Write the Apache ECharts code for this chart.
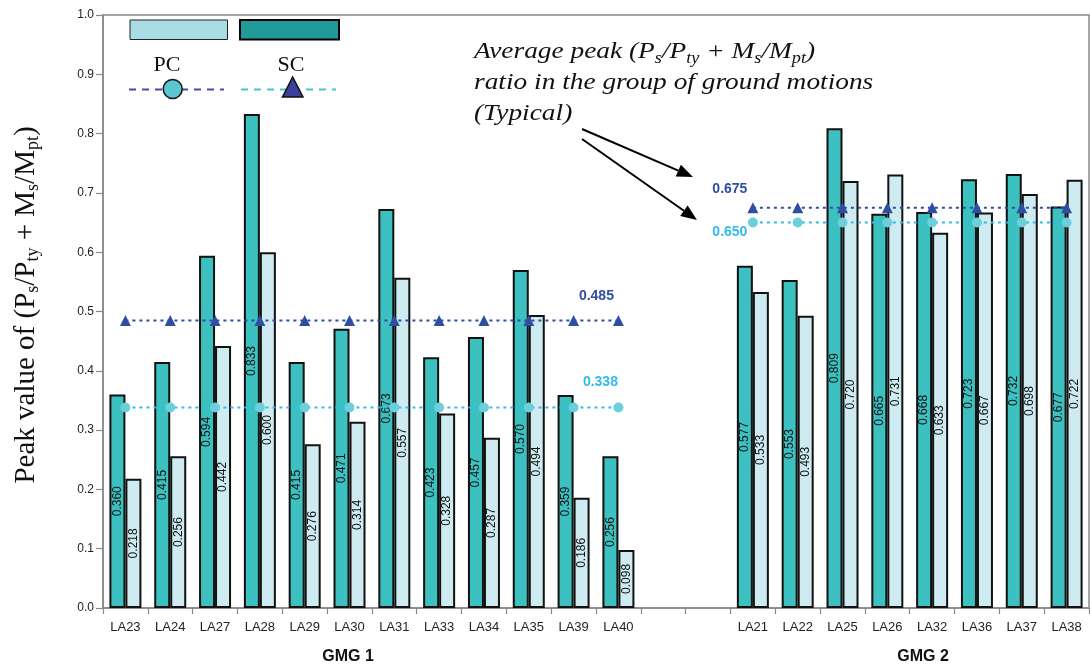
<!DOCTYPE html>
<html>
<head>
<meta charset="utf-8">
<script src="https://cdn.jsdelivr.net/npm/echarts@6/dist/echarts.min.js"></script>
<style>html,body{margin:0;padding:0;background:#fff;}#c{width:1090px;height:667px;}</style>
</head>
<body>
<div id="c"></div>
<script>
// ---- data ----
const gmg1Cats = ['LA23','LA24','LA27','LA28','LA29','LA30','LA31','LA33','LA34','LA35','LA39','LA40'];
const gmg2Cats = ['LA21','LA22','LA25','LA26','LA32','LA36','LA37','LA38'];
const scGMG1 = [0.360,0.415,0.594,0.833,0.415,0.471,0.673,0.423,0.457,0.570,0.359,0.256];
const pcGMG1 = [0.218,0.256,0.442,0.600,0.276,0.314,0.557,0.328,0.287,0.494,0.186,0.098];
const scGMG2 = [0.577,0.553,0.809,0.665,0.668,0.723,0.732,0.677];
const pcGMG2 = [0.533,0.493,0.720,0.731,0.633,0.667,0.698,0.722];
const avgSC = [0.485, 0.675];   // GMG1, GMG2
const avgPC = [0.338, 0.650];
const groupNames = ['GMG 1','GMG 2'];
const yMin = 0, yMax = 1.0, yStep = 0.1;

// ---- build ----
const gap = [' ', '  '];
const cats = [...gmg1Cats, ...gap, ...gmg2Cats];
const scData = [...scGMG1, null, null, ...scGMG2];
const pcData = [...pcGMG1, null, null, ...pcGMG2];
const n1 = gmg1Cats.length, g2 = n1 + gap.length;
function avgLine(avg, labelOffs, color) {
  return cats.map((c, i) => {
    let v = i < n1 ? avg[0] : (i >= g2 ? avg[1] : null);
    if (i === n1 - 1 || i === g2) {
      const k = i === n1 - 1 ? 0 : 1;
      return {value: v, label: {show: true, position: 'inside', offset: labelOffs[k],
        formatter: () => avg[k].toFixed(3), color: color, fontSize: 14, fontWeight: 'bold',
        fontFamily: 'Liberation Sans, Arial'}};
    }
    return v;
  });
}

const SANS = 'Liberation Sans, Arial, sans-serif';
const SERIF = 'Liberation Serif, Times New Roman, serif';

const chart = echarts.init(document.getElementById('c'), null, {renderer: 'canvas'});

function arrow(x1, y1, x2, y2) {
  const dx = x2 - x1, dy = y2 - y1, L = Math.hypot(dx, dy);
  const ux = dx / L, uy = dy / L, hl = 16, hw = 6.5;
  const bx = x2 - ux * hl, by = y2 - uy * hl;
  return [
    {type: 'line', shape: {x1, y1, x2: bx, y2: by}, style: {stroke: '#000', lineWidth: 2}},
    {type: 'polygon', shape: {points: [[x2, y2], [bx - uy * hw, by + ux * hw], [bx + uy * hw, by - ux * hw]]},
      style: {fill: '#000'}}
  ];
}

const option = {
  animation: false,
  backgroundColor: '#fff',
  grid: {left: 103, top: 15, width: 986, height: 593, show: true, borderColor: '#888', borderWidth: 1.5},
  xAxis: {
    type: 'category', data: cats,
    axisLine: {lineStyle: {color: '#888', width: 1.5}},
    axisTick: {show: true, interval: 0, length: 6, lineStyle: {color: '#888', width: 1.2}},
    axisLabel: {interval: 0, fontSize: 13, color: '#222', fontFamily: SANS, margin: 13}
  },
  yAxis: {
    type: 'value', min: yMin, max: yMax, interval: yStep,
    splitLine: {show: false},
    axisLine: {show: true, lineStyle: {color: '#888', width: 1.5}},
    axisTick: {show: true, length: 7, lineStyle: {color: '#888', width: 1.2}},
    axisLabel: {fontSize: 12, color: '#222', fontFamily: SANS, margin: 9, formatter: v => v.toFixed(1)}
  },
  series: [
    {name: 'SC', type: 'bar', data: scData, barWidth: 16, barGap: '0%',
      itemStyle: {color: '#3cc0c0', borderColor: '#111', borderWidth: 2},
      label: {show: true, position: 'inside', rotate: 90, fontSize: 12, color: '#111', fontFamily: SANS,
        formatter: p => p.value == null ? '' : p.value.toFixed(3)}},
    {name: 'PC', type: 'bar', data: pcData, barWidth: 16, barGap: '0%',
      itemStyle: {color: '#cdebf0', borderColor: '#111', borderWidth: 2},
      label: {show: true, position: 'inside', rotate: 90, fontSize: 12, color: '#111', fontFamily: SANS,
        formatter: p => p.value == null ? '' : p.value.toFixed(3)}},
    {name: 'PC avg', type: 'line', z: 5, data: avgLine(avgPC, [[-18, -25], [-23, 10]], '#33bbee'),
      connectNulls: false, symbol: 'circle', symbolSize: 10, showAllSymbol: true,
      itemStyle: {color: '#6ccfdc'}, lineStyle: {color: '#33bbee', width: 2, type: [3, 4]}},
    {name: 'SC avg', type: 'line', z: 6, data: avgLine(avgSC, [[-22, -24], [-23, -19]], '#2f4ea3'),
      connectNulls: false, symbol: 'triangle', symbolSize: 11, showAllSymbol: true,
      itemStyle: {color: '#2f4ea3'}, lineStyle: {color: '#2f4ea3', width: 2, type: [3, 4]}}
  ],
  graphic: [
    // legend
    {type: 'rect', shape: {x: 130, y: 20, width: 97.5, height: 19.5}, style: {fill: '#a8dde3', stroke: '#222', lineWidth: 1}},
    {type: 'rect', shape: {x: 240, y: 20, width: 99, height: 19.5}, style: {fill: '#229a9a', stroke: '#000', lineWidth: 2}},
    {type: 'text', x: 167, y: 65, style: {text: 'PC', fontSize: 22, fontFamily: SERIF, fill: '#111', align: 'center', verticalAlign: 'middle'}},
    {type: 'text', x: 291, y: 65, style: {text: 'SC', fontSize: 22, fontFamily: SERIF, fill: '#111', align: 'center', verticalAlign: 'middle'}},
    {type: 'line', shape: {x1: 129, y1: 89.5, x2: 224, y2: 89.5}, style: {stroke: '#4a4aa8', lineWidth: 2, lineDash: [7, 6]}},
    {type: 'circle', shape: {cx: 172.7, cy: 89, r: 9.5}, style: {fill: '#5bc6d0', stroke: '#111', lineWidth: 1.5}},
    {type: 'line', shape: {x1: 241, y1: 89.5, x2: 336, y2: 89.5}, style: {stroke: '#44c8cc', lineWidth: 2, lineDash: [7, 6]}},
    {type: 'polygon', shape: {points: [[292.7, 77], [303, 97], [282.5, 97]]}, style: {fill: '#3a3f9a', stroke: '#111', lineWidth: 1.5}},
    // y-axis title
    {type: 'text', x: 26, y: 305, rotation: Math.PI / 2,
      style: {
        text: '{m|Peak value of (P}{s|s}{m|/P}{s|ty}{m| + M}{s|s}{m|/M}{s|pt}{m|)}',
        align: 'center', verticalAlign: 'middle', fill: '#111',
        rich: {
          m: {fontSize: 29, fontFamily: SERIF, lineHeight: 33, fill: '#111'},
          s: {fontSize: 18, fontFamily: SERIF, lineHeight: 16, verticalAlign: 'bottom', fill: '#111'}
        }
      }},
    // annotation
    {type: 'text', x: 474, y: 36, scaleX: 1.14,
      style: {
        text: '{m|Average peak (P}{s|s}{m|/P}{s|ty}{m| + M}{s|s}{m|/M}{s|pt}{m|)}\n{m|ratio in the group of ground motions}\n{m|(Typical)}',
        align: 'left', verticalAlign: 'top', fill: '#111',
        rich: {
          m: {fontSize: 24, fontFamily: SERIF, fontStyle: 'italic', lineHeight: 31, fill: '#111'},
          s: {fontSize: 16, fontFamily: SERIF, fontStyle: 'italic', lineHeight: 15, verticalAlign: 'bottom', fill: '#111'}
        }
      }},
    ...arrow(582, 129, 693, 177),
    ...arrow(582, 139, 697, 220),
    // group names
    {type: 'text', x: 348, y: 657, style: {text: groupNames[0], fontSize: 16, fontWeight: 'bold', fontFamily: SANS, fill: '#111', align: 'center', verticalAlign: 'middle'}},
    {type: 'text', x: 923, y: 657, style: {text: groupNames[1], fontSize: 16, fontWeight: 'bold', fontFamily: SANS, fill: '#111', align: 'center', verticalAlign: 'middle'}}
  ]
};
chart.setOption(option);
</script>
</body>
</html>
